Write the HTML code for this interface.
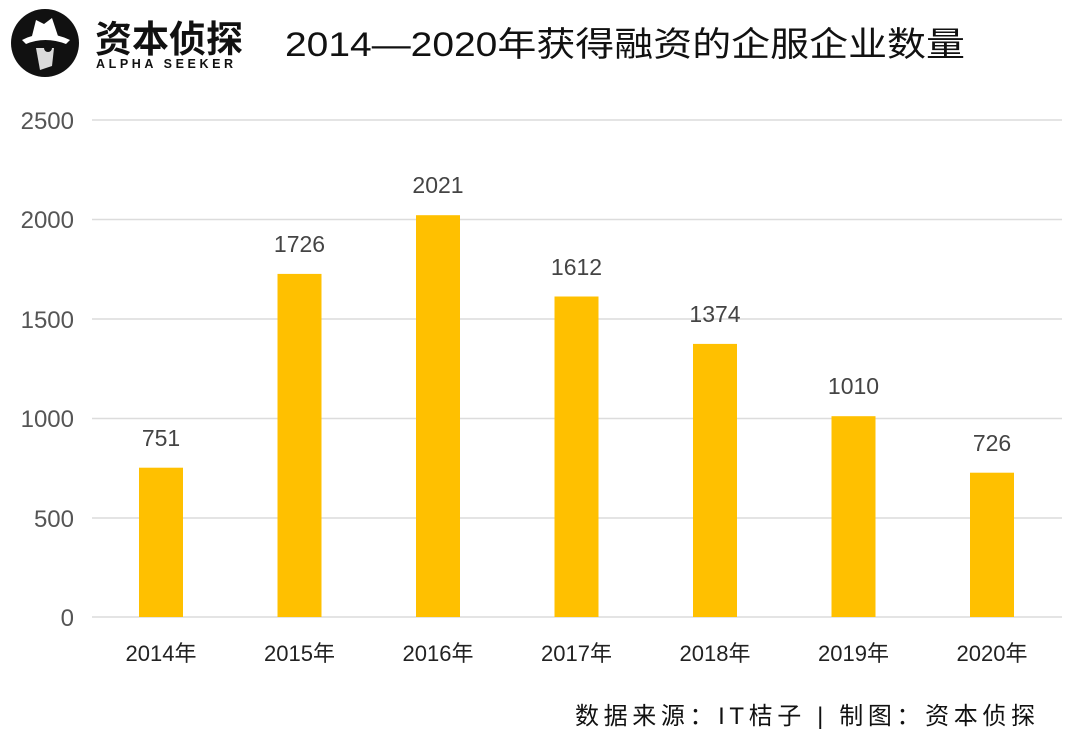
<!DOCTYPE html>
<html><head><meta charset="utf-8"><style>
body{margin:0;background:#fff}
svg{display:block}
.cj{font-family:"Liberation Sans","Noto Sans CJK SC",sans-serif}
</style></head><body>
<svg width="1080" height="752" viewBox="0 0 1080 752" xmlns="http://www.w3.org/2000/svg" class="cj">
<circle cx="45" cy="43" r="34" fill="#111"/>
<path d="M22 40 Q45 28 70 40 L66 44 Q45 36 26 44 Z" fill="#fff"/>
<path d="M32 36 L36 20 L44 24 L52 18 L58 36 Z" fill="#fff"/>
<path d="M36 48 L54 48 L52 66 L40 70 Z" fill="#fff" opacity="0.85"/>
<circle cx="48" cy="48" r="4" fill="#111"/>
<text x="95" y="52" font-size="37" font-weight="bold" fill="#111" font-family="'Noto Sans CJK SC',sans-serif">资本侦探</text>
<text x="96" y="68" font-size="12.5" font-weight="bold" fill="#111" letter-spacing="3.6" font-family="'Liberation Sans',sans-serif">ALPHA SEEKER</text>
<text x="285" y="56" font-size="34" fill="#111" textLength="680" lengthAdjust="spacingAndGlyphs">2014—2020年获得融资的企服企业数量</text>
<g stroke="#dcdcdc" stroke-width="1.5">
<line x1="92" x2="1062" y1="120" y2="120"/><line x1="92" x2="1062" y1="219.5" y2="219.5"/>
<line x1="92" x2="1062" y1="319" y2="319"/><line x1="92" x2="1062" y1="418.5" y2="418.5"/>
<line x1="92" x2="1062" y1="518" y2="518"/><line x1="92" x2="1062" y1="617" y2="617"/>
</g>
<g font-size="24" fill="#555" text-anchor="end">
<text x="74" y="129">2500</text><text x="74" y="228">2000</text><text x="74" y="328">1500</text>
<text x="74" y="427">1000</text><text x="74" y="527">500</text><text x="74" y="626">0</text>
</g>
<g fill="#FFC000">
<rect x="139" y="467.7" width="44" height="149.3"/>
<rect x="277.5" y="273.9" width="44" height="343.1"/>
<rect x="416" y="215.2" width="44" height="401.8"/>
<rect x="554.5" y="296.5" width="44" height="320.5"/>
<rect x="693" y="343.9" width="44" height="273.1"/>
<rect x="831.5" y="416.2" width="44" height="200.8"/>
<rect x="970" y="472.7" width="44" height="144.3"/>
</g>
<g font-size="23" fill="#444" text-anchor="middle">
<text x="161" y="446">751</text><text x="299.5" y="252">1726</text><text x="438" y="193">2021</text>
<text x="576.5" y="275">1612</text><text x="715" y="322">1374</text><text x="853.5" y="394">1010</text>
<text x="992" y="451">726</text>
</g>
<g font-size="22" fill="#222" text-anchor="middle">
<text x="161" y="661">2014年</text><text x="299.5" y="661">2015年</text><text x="438" y="661">2016年</text>
<text x="576.5" y="661">2017年</text><text x="715" y="661">2018年</text><text x="853.5" y="661">2019年</text>
<text x="992" y="661">2020年</text>
</g>
<text x="575" y="724" font-size="24" fill="#111" textLength="460" lengthAdjust="spacing">数据来源：IT桔子 | 制图：资本侦探</text>
</svg>
</body></html>
